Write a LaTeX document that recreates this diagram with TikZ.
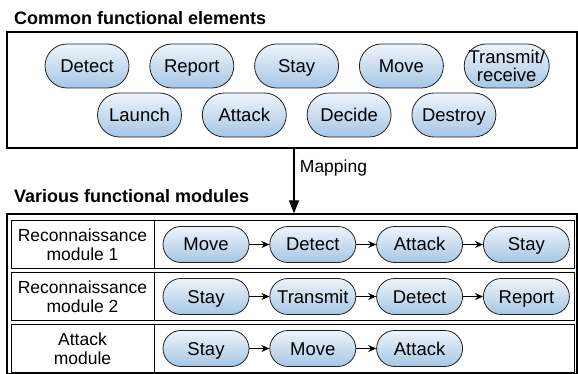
\documentclass[tikz,border=0pt]{standalone}
\usepackage{fontspec}
\setmainfont{Liberation Sans}
\usetikzlibrary{positioning,arrows.meta}
\definecolor{pilltop}{HTML}{EEF4FB}
\definecolor{pillbot}{HTML}{A6C6E4}
\definecolor{pillline}{HTML}{222222}
\tikzset{%
pill/.style={draw=pillline,line width=0.8pt,rectangle,rounded corners=22pt,top color=pilltop,bottom color=pillbot,minimum width=84pt,minimum height=44pt,inner sep=0pt,font=\fontsize{18.5}{19}\selectfont,text height=13.5pt,text depth=0.5pt},
steppill/.style={pill,rounded corners=18pt,minimum width=86pt,minimum height=36pt},
frame/.style={draw,line width=1.3pt,inner sep=0pt},
cell/.style={draw,line width=0.9pt,inner sep=0pt,minimum height=48pt},
title/.style={font=\fontsize{18}{19}\selectfont\bfseries,anchor=base west,inner sep=0pt},
link/.style={-{Stealth[length=8pt,width=7pt]},line width=0.9pt},
mapline/.style={-{Triangle[length=13pt,width=10pt]},line width=1.2pt}
}
\begin{document}
\begin{tikzpicture}[x=1pt,y=-1pt,node distance=20pt,font=\fontsize{17.5}{19}\selectfont]
    \useasboundingbox (0,0) rectangle (578,374);

    % common elements
    \node[title] (toptitle) at (14,25) {Common functional elements};
    \node[frame,minimum width=570pt,minimum height=116pt] (common) at (292,90) {};
    \node[pill] (detect) at (87,66) {Detect};
    \node[pill,right=of detect] (report) {Report};
    \node[pill,right=of report] (stay) {Stay};
    \node[pill,right=of stay] (move) {Move};
    \node[pill,right=of move,minimum width=85pt,align=center,font=\fontsize{18.5}{18}\selectfont,text height={},text depth={}] (transmit) {Transmit/\\receive};
    \node[pill] (launch) at (139.5,115) {Launch};
    \node[pill,right=of launch] (attack) {Attack};
    \node[pill,right=of attack] (decide) {Decide};
    \node[pill,right=of decide] (destroy) {Destroy};

    % functional modules
    \node[title] (bottitle) at (14,203) {Various functional modules};
    \node[frame,minimum width=570pt,minimum height=160pt] (modules) at (292,294) {};

    \node[cell,minimum width=143pt,align=center] (lab1) at (82.5,244.5) {Reconnaissance\\module 1};
    \node[cell,minimum width=420pt,right=0pt of lab1] (seq1) {};
    \node[cell,minimum width=143pt,align=center] (lab2) at (82.5,296.5) {Reconnaissance\\module 2};
    \node[cell,minimum width=420pt,right=0pt of lab2] (seq2) {};
    \node[cell,minimum width=143pt,align=center] (lab3) at (82.5,348.5) {Attack\\module};
    \node[cell,minimum width=420pt,right=0pt of lab3] (seq3) {};

    \node[steppill] (move1) at (206,244.5) {Move};
    \node[steppill,right=of move1] (detect1) {Detect};
    \node[steppill,right=of detect1] (attack1) {Attack};
    \node[steppill,right=of attack1] (stay1) {Stay};

    \node[steppill] (stay2) at (206,296.5) {Stay};
    \node[steppill,right=of stay2] (transmit2) {Transmit};
    \node[steppill,right=of transmit2] (detect2) {Detect};
    \node[steppill,right=of detect2] (report2) {Report};

    \node[steppill] (stay3) at (206,348.5) {Stay};
    \node[steppill,right=of stay3] (move3) {Move};
    \node[steppill,right=of move3] (attack3) {Attack};

    \path[link] (move1) edge (detect1)
                (detect1) edge (attack1)
                (attack1) edge (stay1)
                (stay2) edge (transmit2)
                (transmit2) edge (detect2)
                (detect2) edge (report2)
                (stay3) edge (move3)
                (move3) edge (attack3);

    % mapping arrow
    \coordinate (map) at (294,0);
    \draw[mapline] (common.south -| map) -- node[pos=0.3,anchor=west,xshift=2pt] (maplbl) {Mapping} (modules.north -| map);
\end{tikzpicture}
\end{document}
